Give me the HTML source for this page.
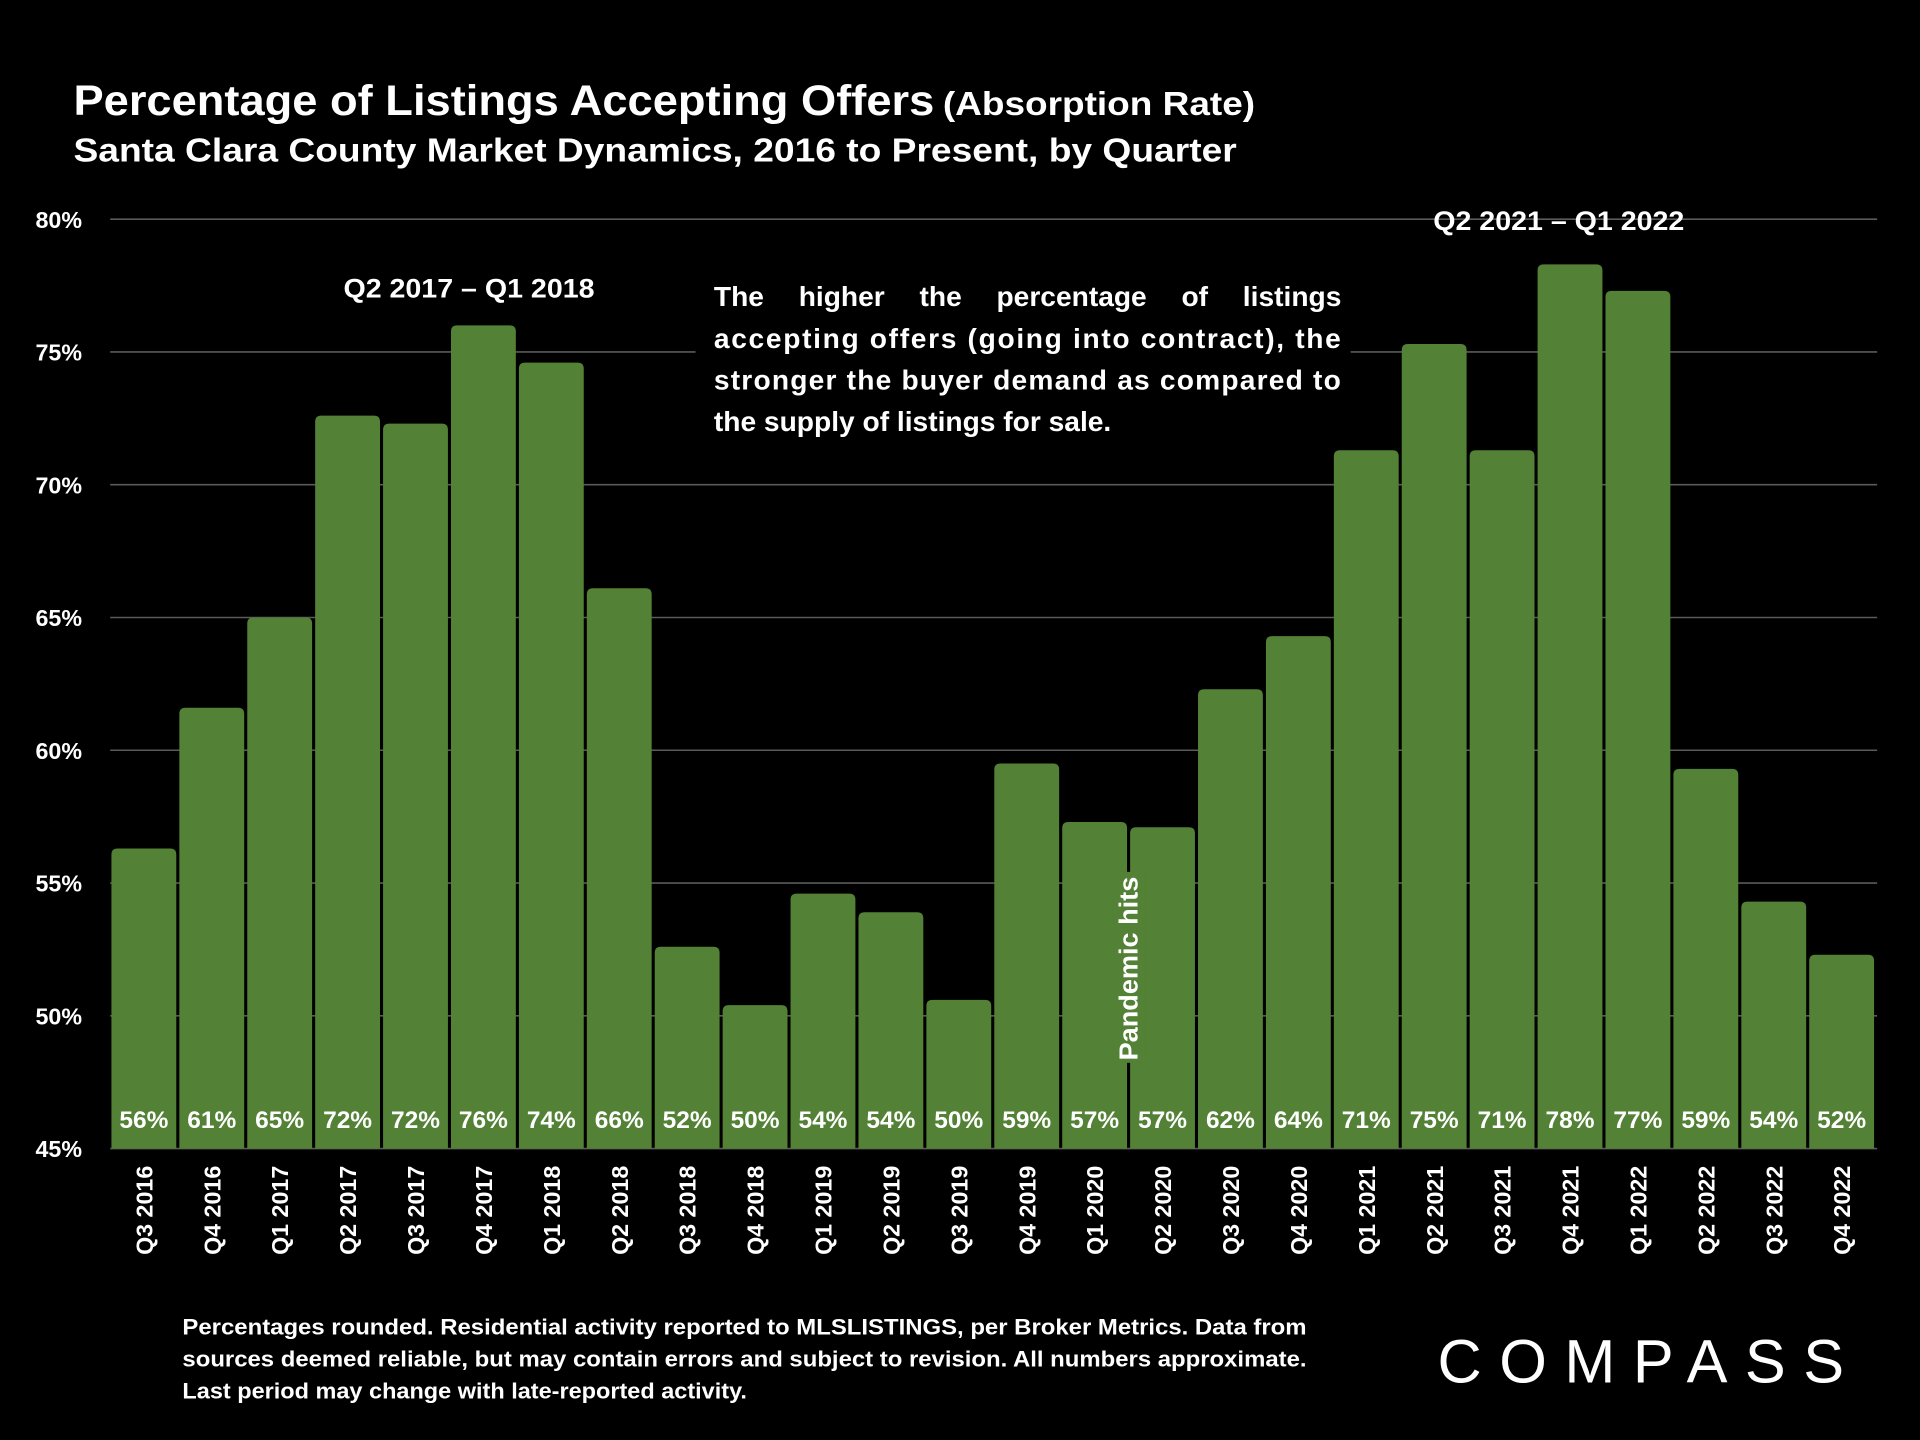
<!DOCTYPE html>
<html><head><meta charset="utf-8">
<style>
html,body{margin:0;padding:0;background:#000;}
svg{display:block;font-family:"Liberation Sans",sans-serif;}
</style></head>
<body>
<svg id="chart" width="1920" height="1440" viewBox="0 0 1568 1176" xmlns="http://www.w3.org/2000/svg">
<rect width="1568" height="1176" fill="#000"/>
<g>
<text x="60" y="94" fill="#fff" font-size="35" font-weight="bold" textLength="703" lengthAdjust="spacingAndGlyphs">Percentage of Listings Accepting Offers</text>
<text x="770" y="94" fill="#fff" font-size="27" font-weight="bold" textLength="255" lengthAdjust="spacingAndGlyphs">(Absorption Rate)</text>
</g>
<text x="60" y="132" fill="#fff" font-size="27" font-weight="bold" textLength="950" lengthAdjust="spacingAndGlyphs">Santa Clara County Market Dynamics, 2016 to Present, by Quarter</text>
<g id="grid"></g>
<g id="bars"></g>
<g id="xlabels"></g>
<rect x="568" y="222" width="535" height="140" fill="#000"/>
<g fill="#fff" font-size="23" font-weight="bold">
<text x="583" y="250" word-spacing="22">The higher the percentage of listings</text>
<text x="583" y="284" textLength="512" lengthAdjust="spacing">accepting offers (going into contract), the</text>
<text x="583" y="318" textLength="512" lengthAdjust="spacing">stronger the buyer demand as compared to</text>
<text x="583" y="352">the supply of listings for sale.</text>
</g>
<text x="383" y="243" fill="#fff" font-size="22" font-weight="bold" text-anchor="middle" textLength="205" lengthAdjust="spacingAndGlyphs">Q2 2017 – Q1 2018</text>
<text x="1273" y="188" fill="#fff" font-size="22" font-weight="bold" text-anchor="middle" textLength="205" lengthAdjust="spacingAndGlyphs">Q2 2021 – Q1 2022</text>
<g>
<rect x="909" y="712" width="26" height="156" fill="#538135"/>
<text transform="translate(929,866) rotate(-90)" fill="#fff" font-size="21" font-weight="bold" textLength="150" lengthAdjust="spacingAndGlyphs">Pandemic hits</text>
</g>
<g fill="#fff" font-size="18" font-weight="bold">
<text x="149" y="1090" textLength="918" lengthAdjust="spacingAndGlyphs">Percentages rounded. Residential activity reported to MLSLISTINGS, per Broker Metrics. Data from</text>
<text x="149" y="1116" textLength="918" lengthAdjust="spacingAndGlyphs">sources deemed reliable, but may contain errors and subject to revision. All numbers approximate.</text>
<text x="149" y="1142" textLength="461" lengthAdjust="spacingAndGlyphs">Last period may change with late-reported activity.</text>
</g>
<text x="1174" y="1129" fill="#fff" font-size="50" textLength="332" lengthAdjust="spacing">COMPASS</text>
</svg>
<script>
const categories = ["Q3 2016","Q4 2016","Q1 2017","Q2 2017","Q3 2017","Q4 2017","Q1 2018","Q2 2018","Q3 2018","Q4 2018","Q1 2019","Q2 2019","Q3 2019","Q4 2019","Q1 2020","Q2 2020","Q3 2020","Q4 2020","Q1 2021","Q2 2021","Q3 2021","Q4 2021","Q1 2022","Q2 2022","Q3 2022","Q4 2022"];
const values = [56.3,61.6,65.0,72.6,72.3,76.0,74.6,66.1,52.6,50.4,54.6,53.9,50.6,59.5,57.3,57.1,62.3,64.3,71.3,75.3,71.3,78.3,77.3,59.3,54.3,52.3];
const valueLabels = ["56%","61%","65%","72%","72%","76%","74%","66%","52%","50%","54%","54%","50%","59%","57%","57%","62%","64%","71%","75%","71%","78%","77%","59%","54%","52%"];
const yTicks = [45,50,55,60,65,70,75,80];

const NS = "http://www.w3.org/2000/svg";
const yMin = 45, yMax = 80, yTop = 179, yBot = 938;
const xLeft = 91, xRight = 1533;
function yScale(v){ return yBot - (v - yMin) / (yMax - yMin) * (yBot - yTop); }
const pitch = (xRight - xLeft) / categories.length;
function xScale(i){ return xLeft + i * pitch; }
const barW = pitch - 2.5;

const grid = document.getElementById('grid');
yTicks.forEach(t => {
  const y = yScale(t);
  const l = document.createElementNS(NS,'line');
  
  
  l.setAttribute('x1',90); l.setAttribute('x2',1533);
  l.setAttribute('y1',y); l.setAttribute('y2',y);
  l.setAttribute('stroke','#5a5a5a'); l.setAttribute('stroke-width','1.3');
  grid.appendChild(l);
  const tx = document.createElementNS(NS,'text');
  
  
  tx.setAttribute('x',67); tx.setAttribute('y',y+7);
  tx.setAttribute('text-anchor','end'); tx.setAttribute('fill','#fff');
  tx.setAttribute('font-size','19'); tx.setAttribute('font-weight','bold');
  tx.textContent = t + '%';
  grid.appendChild(tx);
});

const bars = document.getElementById('bars');
const xl = document.getElementById('xlabels');
values.forEach((v,i) => {
  const x = xScale(i), y = yScale(v), h = yBot - y, r = 5;
  const p = document.createElementNS(NS,'path');
  
  
  p.setAttribute('d',`M${x},${yBot} V${y+r} Q${x},${y} ${x+r},${y} H${x+barW-r} Q${x+barW},${y} ${x+barW},${y+r} V${yBot} Z`);
  p.setAttribute('fill','#538135');
  bars.appendChild(p);
  const cx = x + barW/2;
  const t = document.createElementNS(NS,'text');
  
  
  t.setAttribute('x',cx); t.setAttribute('y',921);
  t.setAttribute('text-anchor','middle'); t.setAttribute('fill','#fff');
  t.setAttribute('font-size','20'); t.setAttribute('font-weight','bold');
  t.textContent = valueLabels[i];
  bars.appendChild(t);
  const c = document.createElementNS(NS,'text');
  
  
  c.setAttribute('transform',`translate(${cx+7},952) rotate(-90)`);
  c.setAttribute('text-anchor','end'); c.setAttribute('fill','#fff');
  c.setAttribute('font-size','19'); c.setAttribute('font-weight','bold');
  c.textContent = categories[i];
  xl.appendChild(c);
});
</script>
</body></html>
